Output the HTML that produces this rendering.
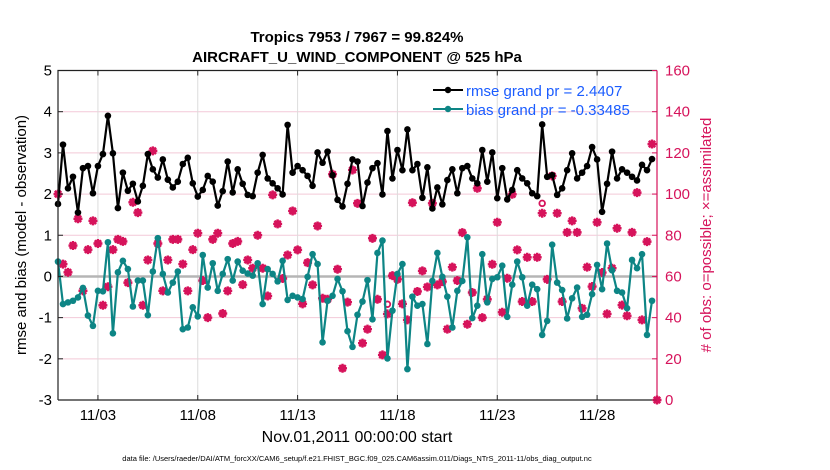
<!DOCTYPE html>
<html><head><meta charset="utf-8"><style>
body{margin:0;background:#fff;}
svg{display:block;font-family:"Liberation Sans",Arial,sans-serif;}
</style></head><body>
<svg id="chart" width="830" height="470" viewBox="0 0 830 470" xmlns="http://www.w3.org/2000/svg">
<rect width="830" height="470" fill="#fff"/>
<text x="357" y="42" text-anchor="middle" font-size="15" font-weight="bold">Tropics 7953 / 7967 = 99.824%</text>
<text x="357" y="62" text-anchor="middle" font-size="15" font-weight="bold">AIRCRAFT_U_WIND_COMPONENT @ 525 hPa</text>
<g id="grid"></g>
<g id="marks"></g>
<g id="axes"></g>
<text transform="translate(26,235) rotate(-90)" text-anchor="middle" font-size="15">rmse and bias (model - observation)</text>
<text transform="translate(711,235) rotate(-90)" text-anchor="middle" font-size="15" fill="#d6135b"># of obs: o=possible; ×=assimilated</text>
<text x="357" y="442" text-anchor="middle" font-size="16">Nov.01,2011 00:00:00 start</text>
<text x="357" y="461" text-anchor="middle" font-size="7.5">data file: /Users/raeder/DAI/ATM_forcXX/CAM6_setup/f.e21.FHIST_BGC.f09_025.CAM6assim.011/Diags_NTrS_2011-11/obs_diag_output.nc</text>
<g>
<line x1="433" y1="90" x2="463" y2="90" stroke="#000" stroke-width="2"/>
<circle cx="448" cy="90" r="3.2" fill="#000"/>
<text x="466" y="96" font-size="15" fill="#1a5cff">rmse grand pr = 2.4407</text>
<line x1="433" y1="109" x2="463" y2="109" stroke="#0d8585" stroke-width="2"/>
<circle cx="448" cy="109" r="3.2" fill="#0d8585"/>
<text x="466" y="115" font-size="15" fill="#1a5cff">bias grand pr = -0.33485</text>
</g>
</svg>
<script>
const rmse=[1.76,3.2,2.14,2.42,1.55,2.63,2.68,2.02,2.68,2.97,3.9,2.99,1.66,2.52,2.08,2.25,1.82,2.2,2.97,2.6,2.4,2.84,2.35,2.16,2.3,2.73,2.88,2.26,1.94,2.1,2.44,2.3,1.72,2.07,2.79,2.04,2.6,2.25,1.98,1.95,2.52,
2.95,2.38,2.26,2.14,1.99,3.68,2.52,2.68,2.58,2.44,2.2,3.01,2.76,3.03,2.46,1.86,1.7,2.25,2.84,2.79,1.71,2.28,2.63,2.75,1.99,3.53,2.38,3.07,2.58,3.57,2.58,2.73,1.91,2.65,1.65,2.16,1.75,2.34,2.6,2.02,
2.63,2.68,2.38,2.26,3.07,2.3,3.01,1.9,2.63,1.87,2.1,2.58,2.38,2.26,2.02,1.95,3.69,2.42,2.46,1.98,2.14,2.58,2.99,2.38,2.52,2.68,3.14,2.84,1.57,2.25,3.03,2.38,2.6,2.52,2.42,2.33,2.71,2.58,2.85];
const bias=[0.36,-0.67,-0.63,-0.59,-0.51,-0.28,-0.95,-1.2,-0.35,-0.36,0.83,-1.38,0.1,0.38,0.18,-0.73,-0.1,-0.1,-0.94,0.12,0.93,0.06,-0.39,-0.15,0.12,-1.28,-1.24,-0.75,-0.97,0.52,-0.27,0.32,-0.35,0.06,0.42,-0.1,0.36,0.14,0.07,0.02,0.32,
-0.67,0.18,0.06,-0.12,0.38,-0.57,-0.47,-0.51,-0.55,-0.01,0.54,0.3,-1.6,-0.59,-0.47,-0.06,-0.36,-1.33,-1.71,-0.93,-0.61,-0.09,-1.04,0.57,0.87,-1.99,-0.83,0.06,0.3,-2.25,-0.49,-0.71,-0.67,-1.64,-0.11,0.57,-0.01,-0.49,-1.24,-0.35,
-0.11,0.95,-1.01,-0.71,0.54,-0.63,-0.06,-0.02,0.26,-0.98,-0.2,0.36,-0.02,-0.71,-0.2,-0.31,-1.42,-1.08,0.77,-0.15,-0.33,-1.02,-0.53,-0.27,-0.98,-0.93,-0.43,0.28,-0.31,0.8,0.15,-0.35,-0.39,-0.77,0.4,0.2,0.54,-1.42,-0.59];
const nAssim=[100,66,62,75,88,53,73,87,76,46,55,73,78,77,57,96,91,46,68,121,76,53,68,78,78,66,53,73,81,58,40,78,81,42,53,76,77,56,68,64,80,64,
50.5,99.6,85.5,59,70.4,91.8,72.9,46.7,66.7,55.9,84.5,49.4,48.9,109.6,63.5,15.4,47.5,111.7,95.5,27.6,34.4,78.5,48.9,21.9,41.8,60.4,58.6,46.7,38.9,95.8,52.7,62.7,54.9,95.5,55.9,57.5,34.4,64.5,58,
81.3,36.8,52.2,102.8,40,48.9,65.9,86.3,42.6,59.1,99.9,72.9,47.8,69.3,47.8,69.3,90.7,58.6,108.8,90.7,47.8,81.4,87,81.4,44.5,64.5,55.1,86.3,61.9,41.8,64,83.4,46.1,40.9,81.4,100.7,38.9,76.9,124.3,0];
const nPoss=nAssim.slice();
nPoss[66]=46.5; nPoss[97]=95.5;
const dayTicks=[2,7,12,17,22,27];
const dayLabels=["11/03","11/08","11/13","11/18","11/23","11/28"];
const leftTicks=[-3,-2,-1,0,1,2,3,4,5];
const rightTicks=[0,20,40,60,80,100,120,140,160];

const X0=58,X1=657,Y0=400,Y1=70.5;
const xs=d=>X0+(d/30)*(X1-X0);
const yl=v=>Y0-(v+3)/8*(Y0-Y1);
const yr=c=>Y0-c/160*(Y0-Y1);
const NS="http://www.w3.org/2000/svg";
function mk(tag,attrs,parent){const e=document.createElementNS(NS,tag);for(const k in attrs)e.setAttribute(k,attrs[k]);parent.appendChild(e);return e;}
const grid=document.getElementById('grid'),marks=document.getElementById('marks'),axes=document.getElementById('axes');
leftTicks.forEach(v=>{const g=mk('line',{x1:X0,x2:X1,y1:yl(v),y2:yl(v),stroke:'#f3c9d8','stroke-width':1},grid);

});
dayTicks.forEach(d=>{const g=mk('line',{x1:xs(d),x2:xs(d),y1:Y1,y2:Y0,stroke:'#dcdcdc','stroke-width':1},grid);

});
const z=mk('line',{x1:X0,x2:X1,y1:yl(0),y2:yl(0),stroke:'#b5b5b5','stroke-width':2.5},grid);


const red='#d6135b';
nPoss.forEach((c,i)=>{const cx=xs(i*0.25),cy=yr(c);
const o=mk('circle',{cx:cx,cy:cy,r:2.8,fill:'none',stroke:red,'stroke-width':1.8},marks);

});
nAssim.forEach((c,i)=>{const cx=xs(i*0.25),cy=yr(c);
const s=mk('path',{d:`M${cx-4.5},${cy}H${cx+4.5}M${cx},${cy-4.5}V${cy+4.5}M${cx-3.2},${cy-3.2}L${cx+3.2},${cy+3.2}M${cx-3.2},${cy+3.2}L${cx+3.2},${cy-3.2}`,stroke:red,'stroke-width':2.4},marks);

});
function series(arr,color,name){
const pts=arr.map((v,i)=>xs(i*0.25).toFixed(2)+','+yl(v).toFixed(2)).join(' ');
const l=mk('polyline',{points:pts,fill:'none',stroke:color,'stroke-width':2.2,'stroke-linejoin':'round'},marks);


arr.forEach((v,i)=>{const c=mk('circle',{cx:xs(i*0.25),cy:yl(v),r:3.3,fill:color},marks);

});}
series(bias,'#0d8585','bias');
series(rmse,'#000000','rmse');
const box=mk('path',{d:`M${X0},${Y0}V${Y1}H${X1}M${X0},${Y0}H${X1}`,fill:'none',stroke:'#222','stroke-width':1.2},axes);


const ra=mk('line',{x1:X1,x2:X1,y1:Y1,y2:Y0,stroke:red,'stroke-width':1.2},axes);


leftTicks.forEach(v=>{mk('line',{x1:X0,x2:X0+5,y1:yl(v),y2:yl(v),stroke:'#222'},axes);
const t=mk('text',{x:X0-6,y:yl(v)+5,'text-anchor':'end','font-size':15},axes);t.textContent=v;

});
rightTicks.forEach(c=>{mk('line',{x1:X1-5,x2:X1,y1:yr(c),y2:yr(c),stroke:red},axes);
const t=mk('text',{x:X1+8,y:yr(c)+5,'font-size':15,fill:red},axes);t.textContent=c;

});
dayTicks.forEach((d,k)=>{mk('line',{x1:xs(d),x2:xs(d),y1:Y0,y2:Y0-5,stroke:'#222'},axes);
mk('line',{x1:xs(d),x2:xs(d),y1:Y1,y2:Y1+5,stroke:'#222'},axes);
const t=mk('text',{x:xs(d),y:Y0+20,'text-anchor':'middle','font-size':15},axes);t.textContent=dayLabels[k];

});
</script>
</body></html>
